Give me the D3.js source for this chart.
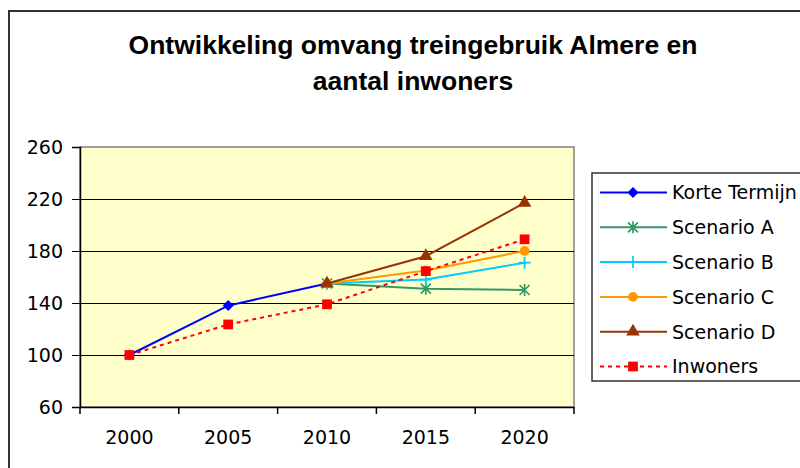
<!DOCTYPE html>
<html>
<head>
<meta charset="utf-8">
<script src="https://cdn.jsdelivr.net/npm/d3@7"></script>
<style>
  body { margin: 0; background: #fff; }
  svg { display: block; font-family: "Liberation Sans", Arial, sans-serif; }
</style>
</head>
<body>
<script>
var years = ["2000", "2005", "2010", "2015", "2020"];
var yTicks = [60, 100, 140, 180, 220, 260];

var korteTermijn = [100, 138, 155, null, null];
var scenarioA = [null, null, 155, 151, 150];
var scenarioB = [null, null, 155, 158, 171];
var scenarioC = [null, null, 155, 165, 180];
var scenarioD = [null, null, 155, 176, 217];
var inwoners = [100, 123.5, 139, 164.5, 189];

var titleLines = ["Ontwikkeling omvang treingebruik Almere en", "aantal inwoners"];

var series = [
  {name: "Korte Termijn", values: korteTermijn, color: "#0000ff", marker: "diamond"},
  {name: "Scenario A", values: scenarioA, color: "#339966", marker: "star"},
  {name: "Scenario B", values: scenarioB, color: "#00ccff", marker: "plus"},
  {name: "Scenario C", values: scenarioC, color: "#ff9900", marker: "circle"},
  {name: "Scenario D", values: scenarioD, color: "#993300", marker: "triangle"},
  {name: "Inwoners", values: inwoners, color: "#ff0000", marker: "square", dash: "4,4"}
];

var width = 800, height = 468;
var plot = {left: 80, right: 574, top: 147, bottom: 407};
var labelFont = "DejaVu Sans, sans-serif";

var svg = d3.select("body").append("svg")
  .attr("width", width)
  .attr("height", height);

// outer frame
svg.append("rect")
  .attr("x", 9).attr("y", 11)
  .attr("width", 820).attr("height", 500)
  .attr("fill", "#fff")
  .attr("stroke", "#333").attr("stroke-width", 2);

// title
svg.append("g").selectAll("text")
  .data(titleLines)
  .enter().append("text")
  .attr("x", 413)
  .attr("y", function(d, i) { return 54 + i * 36; })
  .attr("text-anchor", "middle")
  .attr("font-size", 26.5)
  .attr("font-weight", "bold")
  .text(function(d) { return d; });

var x = d3.scaleBand().domain(years).range([plot.left, plot.right]);
var y = d3.scaleLinear().domain([60, 260]).range([plot.bottom, plot.top]);
var cx = function(d) { return x(d) + x.bandwidth() / 2; };

// plot background
svg.append("rect")
  .attr("x", plot.left).attr("y", plot.top)
  .attr("width", plot.right - plot.left).attr("height", plot.bottom - plot.top)
  .attr("fill", "#ffffcc")
  .attr("stroke", "#808080").attr("stroke-width", 1.5);

// gridlines
svg.append("g").selectAll("line")
  .data(yTicks.slice(1, -1))
  .enter().append("line")
  .attr("x1", plot.left).attr("x2", plot.right)
  .attr("y1", function(d) { return Math.round(y(d)) + 0.5; })
  .attr("y2", function(d) { return Math.round(y(d)) + 0.5; })
  .attr("stroke", "#000").attr("stroke-width", 1);

// y axis
var yAxis = svg.append("g")
  .attr("transform", "translate(" + plot.left + ",0)")
  .call(d3.axisLeft(y).tickValues(yTicks).tickSize(8).tickPadding(9));
yAxis.select(".domain").attr("stroke", "#000").attr("stroke-width", 1.5);
yAxis.selectAll("text").attr("font-size", 19).attr("fill", "#000")
  .attr("font-family", labelFont);

// x axis
var xAxis = svg.append("g")
  .attr("transform", "translate(0," + plot.bottom + ")")
  .call(d3.axisBottom(x).tickSize(0).tickPadding(24));
xAxis.select(".domain").attr("stroke", "#000").attr("stroke-width", 1.5);
xAxis.selectAll("text").attr("font-size", 19).attr("fill", "#000")
  .attr("font-family", labelFont);
// category separators
xAxis.selectAll(".sep")
  .data(years.concat(["end"]))
  .enter().append("line")
  .attr("x1", function(d, i) { return i < years.length ? x(d) : plot.right; })
  .attr("x2", function(d, i) { return i < years.length ? x(d) : plot.right; })
  .attr("y1", 0).attr("y2", 7)
  .attr("stroke", "#000").attr("stroke-width", 1.5);

function markerPath(type) {
  if (type === "diamond") return "M0,-5.5L5.5,0L0,5.5L-5.5,0Z";
  if (type === "circle") return d3.symbol().type(d3.symbolCircle).size(75)();
  if (type === "triangle") return d3.symbol().type(d3.symbolTriangle).size(80)();
  if (type === "square") return d3.symbol().type(d3.symbolSquare).size(95)();
  if (type === "plus") return "M-6,0H6M0,-6V6";
  if (type === "star") return "M-5,-5L5,5M-5,5L5,-5M0,-6V6";
}

function drawMarker(g, s) {
  var stroked = (s.marker === "plus" || s.marker === "star");
  g.append("path")
    .attr("d", markerPath(s.marker))
    .attr("fill", stroked ? "none" : s.color)
    .attr("stroke", stroked ? s.color : "none")
    .attr("stroke-width", 1.7);
}

var line = d3.line()
  .defined(function(d) { return d.v != null; })
  .x(function(d) { return cx(d.year); })
  .y(function(d) { return y(d.v); });

series.forEach(function(s) {
  var pts = years.map(function(yr, i) { return {year: yr, v: s.values[i]}; });
  var g = svg.append("g");
  g.append("path")
    .datum(pts)
    .attr("d", line)
    .attr("fill", "none")
    .attr("stroke", s.color)
    .attr("stroke-width", 2)
    .attr("stroke-dasharray", s.dash || null);
  g.selectAll(".pt")
    .data(pts.filter(function(d) { return d.v != null; }))
    .enter().append("g")
    .attr("transform", function(d) { return "translate(" + cx(d.year) + "," + y(d.v) + ")"; })
    .each(function() { drawMarker(d3.select(this), s); });
});

// legend
var legend = svg.append("g");
legend.append("rect")
  .attr("x", 592).attr("y", 173)
  .attr("width", 260).attr("height", 208)
  .attr("fill", "#fff")
  .attr("stroke", "#333").attr("stroke-width", 1.5);

var item = legend.selectAll(".item")
  .data(series)
  .enter().append("g")
  .attr("transform", function(d, i) { return "translate(0," + (192.5 + i * 34.8) + ")"; });
item.append("line")
  .attr("x1", 600).attr("x2", 667)
  .attr("stroke", function(d) { return d.color; })
  .attr("stroke-width", 2)
  .attr("stroke-dasharray", function(d) { return d.dash || null; });
item.append("g")
  .attr("transform", "translate(633,0)")
  .each(function(d) { drawMarker(d3.select(this), d); });
item.append("text")
  .attr("x", 672)
  .attr("dy", "0.36em")
  .attr("font-size", 19)
  .attr("font-family", labelFont)
  .text(function(d) { return d.name; });
</script>
</body>
</html>
